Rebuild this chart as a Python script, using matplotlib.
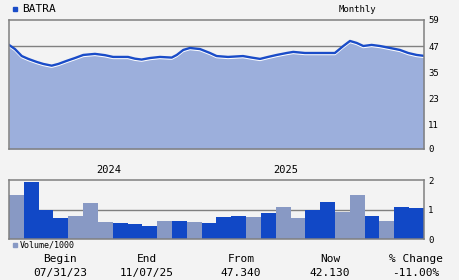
import matplotlib
matplotlib.use("Agg")
import matplotlib.pyplot as plt
import matplotlib.patheffects as pe
import numpy as np

# price line (x in months since Jul 2023)
price_x = [0.00, 0.40, 0.86, 1.30, 1.87, 2.31, 2.88, 3.33, 3.89, 4.45, 5.01, 5.80,
           6.48, 7.02, 8.03, 8.50, 8.95, 9.51, 10.19, 10.98, 11.32, 11.76, 12.21,
           12.89, 13.56, 14.01, 14.78, 15.79, 16.38, 16.94, 17.48, 18.06, 18.74,
           19.18, 19.97, 21.32, 21.99, 22.56, 23.01, 23.46, 23.91, 24.47, 25.03,
           25.71, 26.38, 26.94, 27.51, 28.00]
price = [47.6, 45.7, 42.5, 41.2, 39.8, 38.9, 38.1, 38.9, 40.3, 41.6, 43.0, 43.5,
         42.9, 42.1, 42.1, 41.3, 40.9, 41.6, 42.1, 41.8, 43.0, 45.3, 46.2,
         45.7, 43.9, 42.5, 42.1, 42.5, 41.8, 41.2, 42.1, 43.0, 43.9,
         44.4, 43.9, 43.9, 43.9, 47.1, 49.4, 48.5, 47.1, 47.6, 47.1,
         46.2, 45.3, 43.9, 43.0, 42.6]

# monthly volume (thousands), True = up month (dark bar)
volume = [1.48, 1.92, 0.98, 0.71, 0.78, 1.21, 0.57, 0.54, 0.51, 0.44, 0.61, 0.61,
          0.57, 0.54, 0.74, 0.78, 0.74, 0.88, 1.08, 0.71, 0.98, 1.25, 0.91, 1.48,
          0.78, 0.61, 1.08, 1.04]
vol_up = [False, True, True, True, False, False, False, True, True, True, False, True,
          False, True, True, True, False, True, False, False, True, True, False, False,
          True, False, True, True]

price_ticks = [0, 11, 23, 35, 47, 59]
vol_ticks = [0, 1, 2]
year_labels = ["2024", "2025"]
year_pos = [6.7, 18.7]

stat_heads = ["Begin", "End", "From", "Now", "% Change"]
stat_vals = ["07/31/23", "11/07/25", "47.340", "42.130", "-11.00%"]

bg = "#f3f3f3"
dark = "#1148c6"
light = "#8899c4"
fill_c = "#9cafdc"
line_c = "#1a4cc8"
grid_c = "#808080"
mono = "DejaVu Sans Mono"

fig = plt.figure(figsize=(4.6, 2.8), dpi=100, facecolor=bg)
ax = fig.add_axes([0.0196, 0.4679, 0.902, 0.4607], facecolor=bg)
axv = fig.add_axes([0.0196, 0.1464, 0.902, 0.2107], facecolor=bg)

# price panel
ax.axhline(47, color=grid_c, lw=1, zorder=0.5)
ax.fill_between(price_x, price, 0, color=fill_c, lw=0, zorder=1)
ax.plot(price_x, price, color=line_c, lw=1.7, zorder=2,
        path_effects=[pe.SimpleLineShadow(offset=(0, -0.75), shadow_color="white", alpha=1),
                      pe.Normal()])
ax.set_xlim(0, 28)
ax.set_ylim(0, 59)

# volume panel
colors = [dark if u else light for u in vol_up]
axv.bar(np.arange(len(volume)), volume, width=1.0, align="edge", color=colors, lw=0)
axv.axhline(1, color=grid_c, lw=1, zorder=0.5)
axv.set_xlim(0, 28)
axv.set_ylim(0, 2)

for a, ticks in [(ax, price_ticks), (axv, vol_ticks)]:
    a.set_xticks([])
    a.yaxis.tick_right()
    a.set_yticks(ticks)
    a.set_yticklabels([str(t) for t in ticks], fontsize=6.5, family=mono)
    a.tick_params(axis="y", length=0, pad=3)
    for s in a.spines.values():
        s.set_color(grid_c)
        s.set_linewidth(1.1)

for lbl, xp in zip(year_labels, year_pos):
    axv.text(xp, 2.18, lbl, ha="center", va="bottom", fontsize=7.5, family=mono)

# header
fig.patches.append(plt.Rectangle((13 / 460, 1 - 11 / 280), 4 / 460, 4 / 280,
                                 transform=fig.transFigure, color=line_c))
fig.text(22 / 460, 1 - 9 / 280, "BATRA", fontsize=8, family=mono, va="center")
fig.text(357 / 460, 1 - 9 / 280, "Monthly", fontsize=6.5, family=mono,
         va="center", ha="center")

# volume legend
fig.patches.append(plt.Rectangle((13 / 460, 1 - 247 / 280), 4 / 460, 4 / 280,
                                 transform=fig.transFigure, color=light))
fig.text(20 / 460, 1 - 245 / 280, "Volume/1000", fontsize=6, family=mono, va="center")

# summary row
cols = [60, 147, 241, 330, 416]
for cx, h, v in zip(cols, stat_heads, stat_vals):
    fig.text(cx / 460, 1 - 259 / 280, h, fontsize=8, family=mono, ha="center", va="center")
    fig.text(cx / 460, 1 - 273 / 280, v, fontsize=8, family=mono, ha="center", va="center")

fig.savefig("out.png", dpi=100, facecolor=bg)
